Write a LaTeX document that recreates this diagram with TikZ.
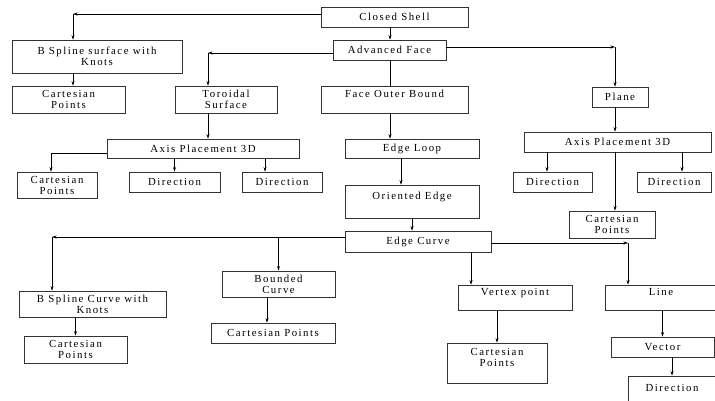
\documentclass[tikz,border=0pt]{standalone}
\usepackage{fontspec}
\setmainfont{Liberation Serif}[LetterSpace=14]
\usepackage{tikz}
\usetikzlibrary{arrows.meta}

\begin{document}
\begin{tikzpicture}
    [x=1pt,y=-1pt,line width=0.6pt,
     box/.style 2 args={draw=black!80,rectangle,minimum width=#1,minimum height=#2,
       inner sep=0pt,align=center,font=\fontsize{10.8}{11}\selectfont},
     arr/.style={-{Stealth[length=4.5pt,width=3pt]}}]
    \useasboundingbox (0,0) rectangle (715,400);
    \clip (0,0) rectangle (715,400);
    \node[box={147}{20}] (cs) at (394.5,17) {Closed Shell};
    \node[box={170}{33}] (bss) at (97,56.5) {B Spline surface with\\Knots};
    \node[box={113}{27}] (cp1) at (68.5,99.5) {Cartesian\\Points};
    \node[box={113}{20}] (af) at (389.5,50) {Advanced Face};
    \node[box={102}{27}] (ts) at (226,99.5) {Toroidal\\Surface};
    \node[box={147}{27}] (fob) at (394.5,99.5) {Face Outer Bound\\~};
    \node[box={56}{20}] (pl) at (620,97) {Plane};
    \node[box={192}{19}] (apl) at (203,148.5) {Axis Placement 3D};
    \node[box={80}{26}] (cp2) at (57,185) {Cartesian\\Points};
    \node[box={91}{20}] (d1) at (174.5,182) {Direction};
    \node[box={80}{20}] (d2) at (282,182) {Direction};
    \node[box={134}{19}] (el) at (412,148.5) {Edge Loop};
    \node[box={134}{33}] (oe) at (412,201.5) {Oriented Edge\\~};
    \node[box={146}{21}] (ec) at (418,241.5) {Edge Curve};
    \node[box={187}{20}] (apr) at (617.5,142) {Axis Placement 3D};
    \node[box={79}{20}] (d3) at (552.5,182) {Direction};
    \node[box={74}{20}] (d4) at (674,182) {Direction};
    \node[box={86}{27}] (cp3) at (612,224.5) {Cartesian\\Points};
    \node[box={147}{26}] (bsc) at (92.5,304) {B Spline Curve with\\Knots};
    \node[box={103}{27}] (cp4) at (75.5,349.5) {Cartesian\\Points};
    \node[box={113}{26}] (bc) at (278.5,284) {Bounded\\Curve};
    \node[box={124}{20}] (cp5) at (273,333) {Cartesian Points};
    \node[box={114}{25}] (vp) at (515,297.5) {Vertex point\\~};
    \node[box={100}{40}] (cp6) at (497,363) {Cartesian\\Points\\~};
    \node[box={112}{25}] (ln) at (661,297.5) {Line\\~};
    \node[box={103}{20}] (vc) at (662.5,347) {Vector};
    \node[box={88}{34}] (dir) at (672,393) {Direction\\~};
    % bends and drop points
    \coordinate (c1) at (73,14);
    \coordinate (c2) at (208,53);
    \coordinate (c3) at (615,47);
    \coordinate (c4) at (51,153);
    \coordinate (c5) at (52,237);
    \coordinate (c6) at (628,243);
    \coordinate (x1) at (265,0);
    \coordinate (x2) at (390,0);
    \coordinate (x3) at (401,0);
    \coordinate (x4) at (682,0);
    \coordinate (x5) at (267,0);
    \coordinate (x6) at (471,0);
    \coordinate (x7) at (547,0);
    \draw[arr] (cs.west |- c1) -- (c1);
    \draw[arr] (c1) -- (c1 |- bss.north);
    \draw[arr] (c1 |- bss.south) -- (c1 |- cp1.north);
    \draw[arr] (x2 |- cs.south) -- (x2 |- af.north);
    \draw[arr] (af.west |- c2) -- (c2);
    \draw[arr] (c2) -- (c2 |- ts.north);
    \draw (x2 |- af.south) -- (x2 |- fob.north);
    \draw[arr] (af.east |- c3) -- (c3);
    \draw[arr] (c3) -- (c3 |- pl.north);
    \draw[arr] (c3 |- pl.south) -- (c3 |- apr.north);
    \draw[arr] (c2 |- ts.south) -- (c2 |- apl.north);
    \draw (apl.west |- c4) -- (c4);
    \draw[arr] (c4) -- (c4 |- cp2.north);
    \draw[arr] (d1.north |- apl.south) -- (d1.north);
    \draw[arr] (x1 |- apl.south) -- (x1 |- d2.north);
    \draw[arr] (x2 |- fob.south) -- (x2 |- el.north);
    \draw[arr] (x3 |- el.south) -- (x3 |- oe.north);
    \draw[arr] (oe.south) -- (oe.south |- ec.north);
    \draw[arr] (x7 |- apr.south) -- (x7 |- d3.north);
    \draw[arr] (x4 |- apr.south) -- (x4 |- d4.north);
    \draw[arr] (c3 |- apr.south) -- (c3 |- cp3.north);
    \draw[arr] (ec.west |- c5) -- (c5);
    \draw[arr] (c5) -- (c5 |- bsc.north);
    \draw[arr] (bc.north |- c5) -- (bc.north);
    \draw[arr] (cp4.north |- bsc.south) -- (cp4.north);
    \draw[arr] (x5 |- bc.south) -- (x5 |- cp5.north);
    \draw[arr] (x6 |- ec.south) -- (x6 |- vp.north);
    \draw[arr] (cp6.north |- vp.south) -- (cp6.north);
    \draw[arr] (ec.east |- c6) -- (c6);
    \draw[arr] (c6) -- (c6 |- ln.north);
    \draw[arr] (vc.north |- ln.south) -- (vc.north);
    \draw[arr] (dir.north |- vc.south) -- (dir.north);
  \end{tikzpicture}
\end{document}
